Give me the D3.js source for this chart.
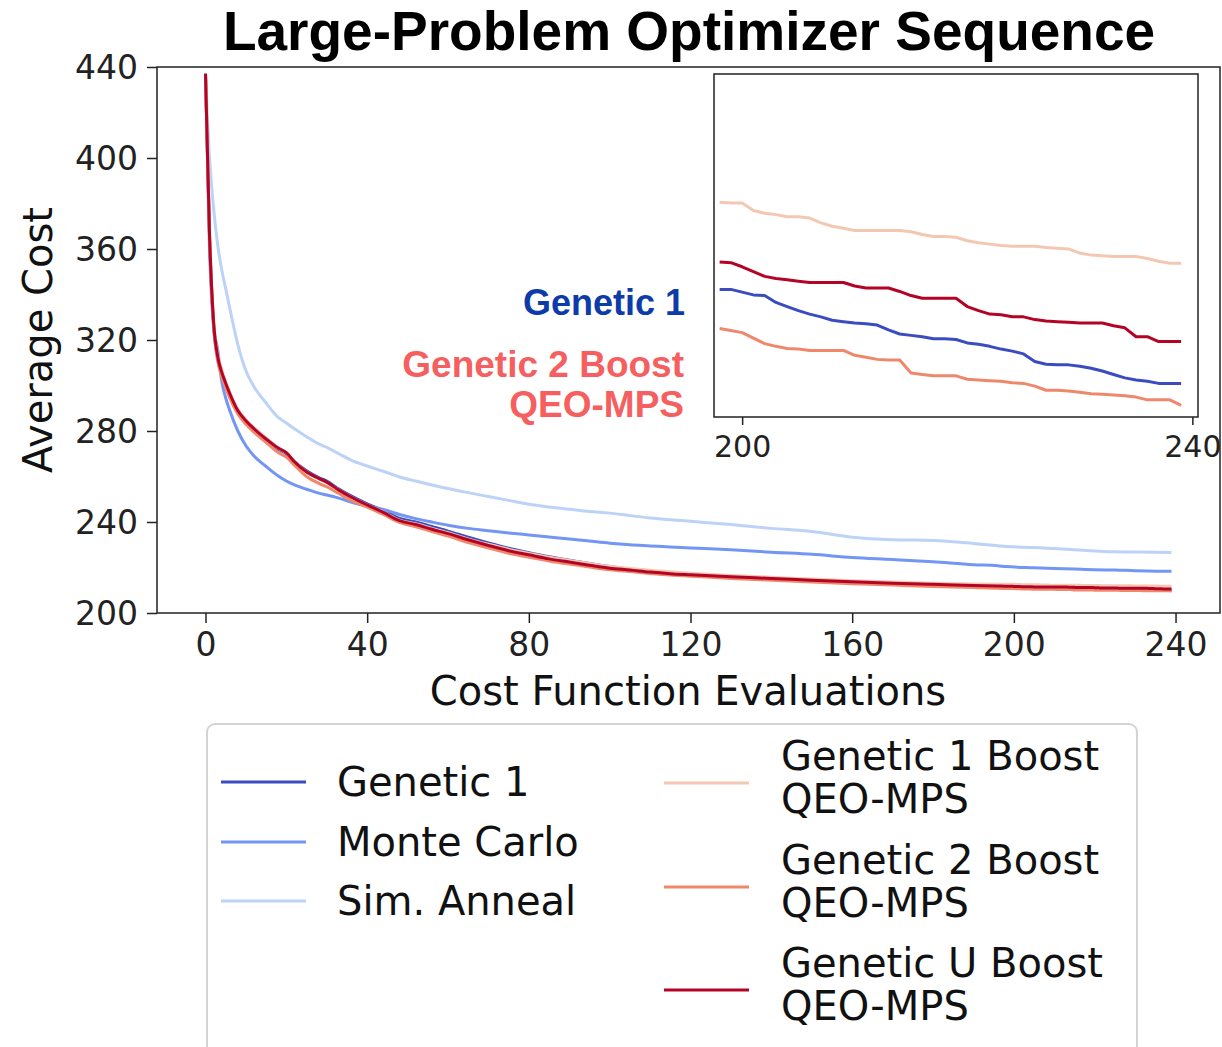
<!DOCTYPE html>
<html>
<head>
<meta charset="utf-8">
<script src="https://cdn.jsdelivr.net/npm/d3@7"></script>
<style>
  body { margin: 0; background: #fff; }
  svg { display: block; }
</style>
</head>
<body>
<script>
// evaluation counts sampled for the main curves
var evalX = [0, 1, 2, 3, 4, 5, 6, 8, 10, 12, 15, 18, 20, 22, 25, 28, 30, 33, 36, 40, 44, 48,
  52, 56, 60, 65, 70, 75, 80, 85, 90, 95, 100, 105, 110, 115, 120, 130, 140, 150, 160, 170, 180, 190, 196];
// late samples for the two baselines that are not in the inset
var lateX = [198, 205, 210, 215, 220, 225, 230, 235, 239];
// every evaluation in the zoomed inset
var tailX = d3.range(198, 240);

var genetic1 = [437, 366, 327, 312, 305, 300, 295.5, 288.5, 284, 280.5, 276, 272, 270, 266.5, 262.5, 259.5, 258, 254.5, 251.5, 248, 245, 241.6,
  240, 238, 236, 233.3, 230.8, 228.5, 226.5, 224.7, 223.2, 221.8, 220.4, 219.2, 218.1, 217.3, 216.7, 215.7, 214.9, 214.1, 213.4, 212.8, 212.3, 211.8, 211.45];
var monteCarlo = [437, 360, 326, 316, 302, 294.5, 289, 280, 273.5, 269, 264.4, 260.2, 258, 256.3, 254.4, 252.7, 251.9, 250.5, 248.8, 247, 245.5, 243.3,
  241.5, 240, 238.6, 237.2, 236.2, 235.2, 234.3, 233.4, 232.5, 231.6, 230.7, 230, 229.5, 229, 228.6, 227.8, 226.7, 225.8, 224.4, 223.5, 222.5, 221.2, 220.8];
var simAnneal = [437, 400, 378, 362, 351, 342.5, 334, 318, 306.5, 299.5, 292.3, 286, 283.5, 281, 277.5, 274.3, 272.8, 270, 267.2, 264.6, 262.3, 259.8,
  258, 256.3, 254.7, 252.9, 251.2, 249.5, 247.8, 246.6, 245.6, 244.6, 243.9, 242.8, 241.8, 241, 240.3, 238.9, 237.2, 235.8, 233.3, 232.2, 231.9, 230.6, 229.6];
var g1Boost = [437, 367, 329, 314, 307, 301.5, 297, 289.5, 285, 281.5, 277, 272.5, 270.5, 266.5, 262, 259, 257.3, 254, 251, 247.5, 244.3, 240.8,
  239.2, 237.2, 235.3, 232.6, 230.2, 228, 226.2, 224.5, 223.1, 221.8, 220.5, 219.6, 218.8, 218.1, 217.5, 216.5, 215.7, 214.9, 214.2, 213.6, 213.1, 212.8, 212.68];
var g2Boost = [437, 364, 326, 311, 304, 299, 294.5, 287.5, 283, 279.5, 275, 270.5, 268.5, 265, 260, 257, 255.5, 252.5, 249.5, 246.5, 243.3, 239.8,
  237.9, 235.8, 233.8, 231, 228.6, 226.3, 224.5, 222.9, 221.5, 220.2, 219, 218.2, 217.4, 216.7, 216.2, 215.2, 214.4, 213.6, 212.9, 212.3, 211.7, 211.2, 210.85];
var guBoost = [437, 366, 328, 313, 306, 301, 296.5, 289, 284.5, 281, 276.5, 272.5, 270.5, 266.5, 262, 259.2, 257.5, 254, 251, 247.5, 244.2, 240.6,
  238.9, 236.8, 234.9, 232.2, 229.7, 227.4, 225.6, 223.8, 222.4, 221, 219.7, 218.9, 218, 217.3, 216.8, 215.9, 215.2, 214.4, 213.7, 213.1, 212.6, 212.1, 211.85];

var monteCarloLate = [220.4, 219.9, 219.6, 219.3, 219.0, 218.9, 218.6, 218.4, 218.3];
var simAnnealLate = [229.2, 228.8, 228.3, 227.8, 227.3, 226.9, 226.8, 226.7, 226.6];

var genetic1Tail = [211.36, 211.36, 211.32, 211.28, 211.27, 211.17, 211.11, 211.05, 211.0, 210.96, 210.91, 210.89, 210.87, 210.86,
  210.84, 210.77, 210.71, 210.69, 210.67, 210.64, 210.64, 210.63, 210.58, 210.56, 210.53, 210.49, 210.46, 210.42, 210.31,
  210.27, 210.26, 210.26, 210.24, 210.21, 210.17, 210.12, 210.07, 210.04, 210.02, 209.99, 209.99, 209.99];
var g1BoostTail = [212.63, 212.62, 212.62, 212.51, 212.47, 212.45, 212.42, 212.42, 212.40, 212.33, 212.28, 212.25, 212.22, 212.22,
  212.22, 212.22, 212.22, 212.20, 212.16, 212.13, 212.13, 212.12, 212.07, 212.04, 212.02, 212.0, 211.99, 211.99, 211.99,
  211.97, 211.96, 211.95, 211.89, 211.86, 211.85, 211.84, 211.84, 211.84, 211.81, 211.77, 211.74, 211.74];
var g2BoostTail = [210.79, 210.76, 210.73, 210.65, 210.57, 210.53, 210.50, 210.49, 210.47, 210.47, 210.47, 210.47, 210.40, 210.37,
  210.34, 210.33, 210.33, 210.14, 210.12, 210.10, 210.10, 210.10, 210.05, 210.04, 210.03, 210.02, 210.0, 209.99, 209.95,
  209.89, 209.89, 209.88, 209.86, 209.84, 209.83, 209.82, 209.81, 209.79, 209.75, 209.75, 209.75, 209.67];
var guBoostTail = [211.76, 211.75, 211.69, 211.62, 211.55, 211.52, 211.50, 211.48, 211.46, 211.46, 211.46, 211.46, 211.41, 211.38,
  211.38, 211.38, 211.33, 211.27, 211.23, 211.23, 211.23, 211.23, 211.11, 211.05, 211.0, 210.99, 210.96, 210.96, 210.92,
  210.90, 210.89, 210.88, 210.87, 210.87, 210.87, 210.83, 210.80, 210.67, 210.67, 210.60, 210.60, 210.60];

var seriesNames = ['Genetic 1', 'Monte Carlo', 'Sim. Anneal', 'Genetic 1 Boost\nQEO-MPS', 'Genetic 2 Boost\nQEO-MPS', 'Genetic U Boost\nQEO-MPS'];
var seriesColors = ['#3b4cc0', '#7396f5', '#bcd2f7', '#f3c8b2', '#ef886b', '#b40426'];
var xTicks = [0, 40, 80, 120, 160, 200, 240];
var yTicks = [200, 240, 280, 320, 360, 400, 440];
var insetTicks = [200, 240];

function zip(xs, ys) {
  return xs.map(function(x, i) { return [x, ys[i]]; });
}

var series = [
  { name: seriesNames[0], color: seriesColors[0], pts: zip(evalX, genetic1).concat(zip(tailX, genetic1Tail)), inset: true },
  { name: seriesNames[1], color: seriesColors[1], pts: zip(evalX, monteCarlo).concat(zip(lateX, monteCarloLate)), inset: false },
  { name: seriesNames[2], color: seriesColors[2], pts: zip(evalX, simAnneal).concat(zip(lateX, simAnnealLate)), inset: false },
  { name: seriesNames[3], color: seriesColors[3], pts: zip(evalX, g1Boost).concat(zip(tailX, g1BoostTail)), inset: true },
  { name: seriesNames[4], color: seriesColors[4], pts: zip(evalX, g2Boost).concat(zip(tailX, g2BoostTail)), inset: true },
  { name: seriesNames[5], color: seriesColors[5], pts: zip(evalX, guBoost).concat(zip(tailX, guBoostTail)), inset: true }
];

var W = 1222, H = 1047;
var TICK_FONT = 'DejaVu Sans, sans-serif';
var BOLD_FONT = 'Liberation Sans, Arial, sans-serif';

var svg = d3.select('body').append('svg')
  .attr('width', W)
  .attr('height', H);

var x = d3.scaleLinear().domain([-12, 251]).range([157, 1220]);
var y = d3.scaleLinear().domain([200, 440]).range([613, 67]);

svg.append('defs').append('clipPath').attr('id', 'plotClip')
  .append('rect').attr('x', 157).attr('y', 67).attr('width', 1063).attr('height', 546);

var line = d3.line()
  .curve(d3.curveMonotoneX)
  .x(function(d) { return x(d[0]); })
  .y(function(d) { return y(d[1]); });

// main curves
svg.append('g').attr('clip-path', 'url(#plotClip)')
  .selectAll('path')
  .data(series)
  .enter()
  .append('path')
    .attr('d', function(d) { return line(d.pts); })
    .attr('fill', 'none')
    .attr('stroke', function(d) { return d.color; })
    .attr('stroke-width', 3)
    .attr('stroke-linejoin', 'round');

// axes
var xAxis = svg.append('g')
  .attr('transform', 'translate(0,613)')
  .call(d3.axisBottom(x).tickValues(xTicks).tickSize(10).tickPadding(10));
var yAxis = svg.append('g')
  .attr('transform', 'translate(157,0)')
  .call(d3.axisLeft(y).tickValues(yTicks).tickSize(10).tickPadding(9));

[xAxis, yAxis].forEach(function(a) {
  a.select('.domain').remove();
  a.selectAll('line').attr('stroke', '#222').attr('stroke-width', 1.5);
  a.selectAll('text')
    .attr('fill', '#222')
    .style('font-family', TICK_FONT)
    .style('font-size', '33px');
});
yAxis.selectAll('text').attr('dy', '0.36em');

// frame
svg.append('rect')
  .attr('x', 157).attr('y', 67)
  .attr('width', 1063).attr('height', 546)
  .attr('fill', 'none')
  .attr('stroke', '#222')
  .attr('stroke-width', 1.5);

// title and labels
svg.append('text')
  .text('Large-Problem Optimizer Sequence')
  .attr('x', 689).attr('y', 50)
  .attr('text-anchor', 'middle')
  .style('font-family', BOLD_FONT)
  .style('font-weight', 'bold')
  .style('font-size', '55px');

svg.append('text')
  .text('Cost Function Evaluations')
  .attr('x', 688).attr('y', 705)
  .attr('text-anchor', 'middle')
  .attr('fill', '#111')
  .style('font-family', TICK_FONT)
  .style('font-size', '40px');

svg.append('text')
  .text('Average Cost')
  .attr('transform', 'translate(52,340) rotate(-90)')
  .attr('text-anchor', 'middle')
  .attr('fill', '#111')
  .style('font-family', TICK_FONT)
  .style('font-size', '40px');

// inset
var ix = d3.scaleLinear().domain([197.5, 240.5]).range([714, 1198]);
var iy = d3.scaleLinear().domain([209.5, 214.5]).range([417, 74]);

svg.select('defs').append('clipPath').attr('id', 'insetClip')
  .append('rect').attr('x', 714).attr('y', 74).attr('width', 484).attr('height', 343);

svg.append('rect')
  .attr('x', 714).attr('y', 74)
  .attr('width', 484).attr('height', 343)
  .attr('fill', '#fff');

var iline = d3.line()
  .x(function(d) { return ix(d[0]); })
  .y(function(d) { return iy(d[1]); });

svg.append('g').attr('clip-path', 'url(#insetClip)')
  .selectAll('path')
  .data(series.filter(function(d) { return d.inset; }))
  .enter()
  .append('path')
    .attr('d', function(d) { return iline(d.pts.filter(function(p) { return p[0] >= 197; })); })
    .attr('fill', 'none')
    .attr('stroke', function(d) { return d.color; })
    .attr('stroke-width', 3)
    .attr('stroke-linejoin', 'round');

var insetAxis = svg.append('g')
  .attr('transform', 'translate(0,417)')
  .call(d3.axisBottom(ix).tickValues(insetTicks).tickSize(8).tickPadding(11));
insetAxis.select('.domain').remove();
insetAxis.selectAll('line').attr('stroke', '#222').attr('stroke-width', 1.5);
insetAxis.selectAll('text')
  .attr('fill', '#222')
  .style('font-family', TICK_FONT)
  .style('font-size', '30px');

svg.append('rect')
  .attr('x', 714).attr('y', 74)
  .attr('width', 484).attr('height', 343)
  .attr('fill', 'none')
  .attr('stroke', '#222')
  .attr('stroke-width', 1.5);

// inset annotations
svg.append('text')
  .text('Genetic 1')
  .attr('x', 685).attr('y', 315)
  .attr('text-anchor', 'end')
  .attr('fill', '#0d3ba9')
  .style('font-family', BOLD_FONT)
  .style('font-weight', 'bold')
  .style('font-size', '36px');

var g2Note = svg.append('text')
  .attr('text-anchor', 'end')
  .attr('fill', '#f55f5f')
  .style('font-family', BOLD_FONT)
  .style('font-weight', 'bold')
  .style('font-size', '37px');
['Genetic 2 Boost', 'QEO-MPS'].forEach(function(t, i) {
  g2Note.append('tspan').attr('x', 684).attr('y', 377 + i * 40).text(t);
});

// legend
svg.append('rect')
  .attr('x', 207).attr('y', 724)
  .attr('width', 930).attr('height', 340)
  .attr('rx', 8)
  .attr('fill', '#fff')
  .attr('stroke', '#d4d4d4')
  .attr('stroke-width', 2);

var legendPos = [
  { hx: 221, tx: 337, y: 782 },
  { hx: 221, tx: 337, y: 842 },
  { hx: 221, tx: 337, y: 901 },
  { hx: 664, tx: 781, y: 783 },
  { hx: 664, tx: 781, y: 887 },
  { hx: 664, tx: 781, y: 990 }
];

var entries = svg.append('g').selectAll('.entry')
  .data(series)
  .enter()
  .append('g');

entries.append('line')
  .attr('x1', function(d, i) { return legendPos[i].hx; })
  .attr('x2', function(d, i) { return legendPos[i].hx + 85; })
  .attr('y1', function(d, i) { return legendPos[i].y; })
  .attr('y2', function(d, i) { return legendPos[i].y; })
  .attr('stroke', function(d) { return d.color; })
  .attr('stroke-width', 3);

entries.append('text')
  .attr('fill', '#111')
  .style('font-family', TICK_FONT)
  .style('font-size', '40px')
  .each(function(d, i) {
    var lines = d.name.split('\n');
    var t = d3.select(this);
    var p = legendPos[i];
    var first = lines.length === 1 ? p.y + 14 : p.y - 13;
    lines.forEach(function(l, k) {
      t.append('tspan').attr('x', p.tx).attr('y', first + k * 43).text(l);
    });
  });
</script>
</body>
</html>
